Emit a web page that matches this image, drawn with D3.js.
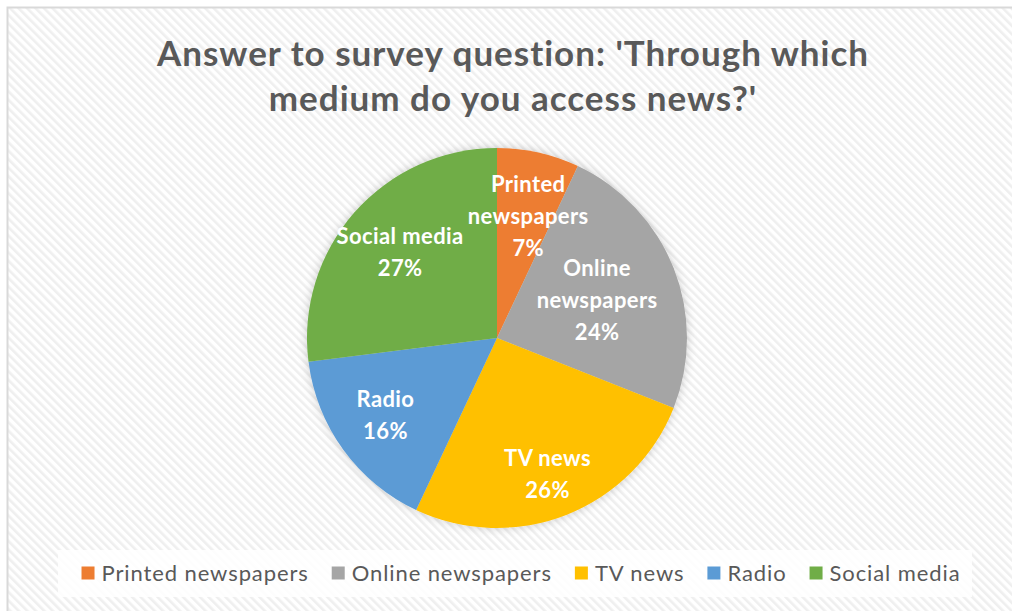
<!DOCTYPE html>
<html>
<head>
<meta charset="utf-8">
<script src="https://cdn.jsdelivr.net/npm/d3@7"></script>
<style>
  html, body { margin: 0; padding: 0; background: #ffffff; }
  svg { display: block; }
</style>
</head>
<body>
<svg id="chart" width="1012" height="611"></svg>
<script>
// Survey data
const categories = ["Printed newspapers", "Online newspapers", "TV news", "Radio", "Social media"];
const shares = [7, 24, 26, 16, 27];
const labelLines = [["Printed", "newspapers"], ["Online", "newspapers"], ["TV news"], ["Radio"], ["Social media"]];
const colors = ["#ED7D31", "#A5A5A5", "#FFC000", "#5B9BD5", "#70AD47"];
const titleLines = ["Answer to survey question: 'Through which", "medium do you access news?'"];

const W = 1012, H = 611;
const svg = d3.select("#chart");
const defs = svg.append("defs");

// Diagonal hatch background
const hatch = defs.append("pattern")
  .attr("id", "hatch")
  .attr("patternUnits", "userSpaceOnUse")
  .attr("width", 6).attr("height", 6)
  .attr("patternTransform", "rotate(-45)");
hatch.append("rect").attr("width", 6).attr("height", 6).attr("fill", "#ffffff");
hatch.append("rect").attr("width", 2.6).attr("height", 6).attr("fill", "#efefef");

const glow = defs.append("filter").attr("id", "glow")
  .attr("x", "-20%").attr("y", "-20%").attr("width", "140%").attr("height", "140%");
glow.append("feDropShadow")
  .attr("dx", 0).attr("dy", 0).attr("stdDeviation", 5)
  .attr("flood-color", "#000").attr("flood-opacity", 0.2);

// Chart frame
svg.append("rect")
  .attr("x", 7.5).attr("y", 7.5)
  .attr("width", 1030).attr("height", 630)
  .attr("fill", "url(#hatch)")
  .attr("stroke", "#d9d9d9").attr("stroke-width", 2);

// Title
const title = svg.append("text")
  .attr("text-anchor", "middle")
  .attr("font-family", "Lato, 'Open Sans', sans-serif")
  .attr("font-weight", "bold")
  .attr("font-size", 35)
  .attr("letter-spacing", 1)
  .attr("fill", "#595959");
title.selectAll("tspan").data(titleLines).join("tspan")
  .attr("x", 513)
  .attr("y", (d, i) => 66 + i * 45)
  .text(d => d);

// Pie
const cx = 497, cy = 338, R = 190;
const pie = d3.pie().sort(null).value(d => d)
  .startAngle(0).endAngle(2 * Math.PI);
const arcs = pie(shares);
const arc = d3.arc().innerRadius(0).outerRadius(R);

const g = svg.append("g").attr("transform", `translate(${cx},${cy})`);
g.append("g").attr("filter", "url(#glow)")
  .selectAll("path").data(arcs).join("path")
  .attr("d", arc)
  .attr("fill", (d, i) => colors[i]);

// Data labels: centroid on a fixed ring, nudged away from slice edges
const labelArc = d3.arc().innerRadius(R * 0.68).outerRadius(R * 0.68);
const labelNudge = [[3, 4], [-20, 10], [3, 16], [-7, 1], [0, 0]];
const lineH = 32;
const labels = g.selectAll("text.lbl").data(arcs).join("text")
  .attr("class", "lbl")
  .attr("text-anchor", "middle")
  .attr("font-family", "Lato, 'Open Sans', sans-serif")
  .attr("font-weight", "bold")
  .attr("font-size", 22)
  .attr("letter-spacing", 0.4)
  .attr("fill", "#ffffff");
labels.each(function (d, i) {
  const [x0, y0] = labelArc.centroid(d);
  const x = x0 + labelNudge[i][0], y = y0 + labelNudge[i][1];
  const lines = labelLines[i].concat([shares[i] + "%"]);
  const top = y - (lines.length - 1) * lineH / 2;
  d3.select(this).selectAll("tspan").data(lines).join("tspan")
    .attr("x", x)
    .attr("y", (t, k) => top + k * lineH)
    .attr("dy", "0.35em")
    .text(t => t);
});

// Legend
const legendBox = { x: 58, y: 550, w: 914, h: 47 };
svg.append("rect")
  .attr("x", legendBox.x).attr("y", legendBox.y)
  .attr("width", legendBox.w).attr("height", legendBox.h)
  .attr("fill", "#ffffff").attr("fill-opacity", 0.85);

const legend = svg.append("g");
const sw = 13, gapAfterSwatch = 7, gapBetween = 23;
let lx = 0;
const items = legend.selectAll("g").data(categories).join("g");
items.each(function (name, i) {
  const it = d3.select(this);
  it.append("rect")
    .attr("x", lx).attr("y", -sw / 2)
    .attr("width", sw).attr("height", sw)
    .attr("fill", colors[i]);
  const t = it.append("text")
    .attr("x", lx + sw + gapAfterSwatch).attr("y", 0)
    .attr("dy", "0.35em")
    .attr("font-family", "Lato, 'Open Sans', sans-serif")
    .attr("font-size", 22)
    .attr("letter-spacing", 0.9)
    .attr("fill", "#595959")
    .text(name);
  lx += sw + gapAfterSwatch + t.node().getComputedTextLength() + gapBetween;
});
const legendW = lx - gapBetween;
legend.attr("transform", `translate(${521 - legendW / 2},${573})`);
</script>
</body>
</html>
